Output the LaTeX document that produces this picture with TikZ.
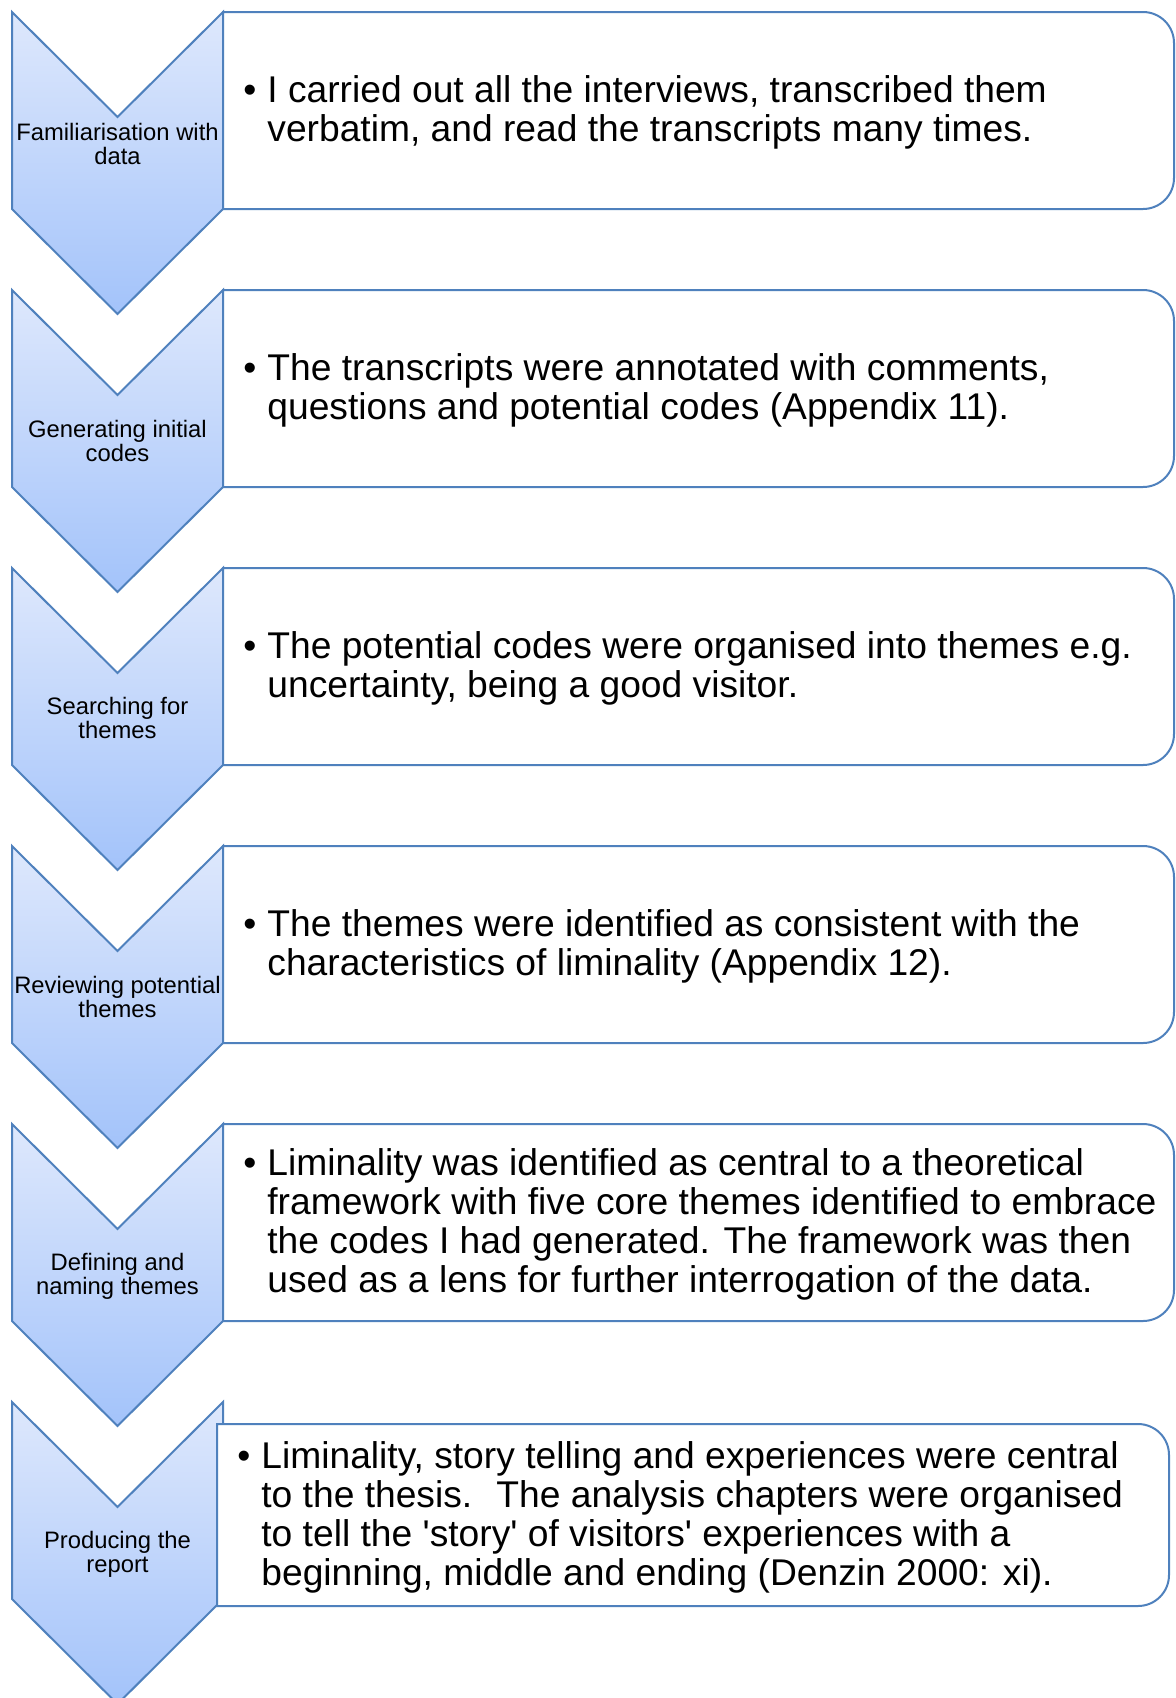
\documentclass[tikz,border=0pt]{standalone}
\usepackage{fontspec}
\setmainfont{Liberation Sans}
\definecolor{edgeblue}{RGB}{79,129,189}
\definecolor{chevtop}{RGB}{222,232,252}
\definecolor{chevbot}{RGB}{163,195,250}
\newcommand{\notelines}[1]{\makebox[12pt][l]{\textbullet}\begin{tabular}[t]{@{}l@{}}#1\end{tabular}}
\newcommand{\steplines}[1]{\begin{tabular}[t]{@{}c@{}}#1\end{tabular}}

\begin{document}
\begin{tikzpicture}[x=0.5pt,y=-0.5pt,
  chevron/.style={draw=edgeblue,line width=1pt,top color=chevtop,bottom color=chevbot},
  notebox/.style={draw=edgeblue,line width=1pt,fill=white},
  steplabel/.style={anchor=base,inner sep=0pt,font=\fontsize{11.9}{12}\selectfont},
  notetext/.style={anchor=base west,inner sep=0pt,font=\fontsize{18.6}{19.5}\selectfont}]

  \useasboundingbox (0,0) rectangle (1176,1698);
  \fill[white] (0,0) rectangle (1176,1698);

  \foreach \t in {12,290,568,846,1124,1402}
    \path[chevron] (12,\t) -- (117.5,\t+105) -- (223,\t) -- (223,\t+197) -- (117.5,\t+302) -- (12,\t+197) -- cycle;

  \foreach \t in {12,290,568,846,1124}
    \draw[notebox] (223,\t) -- (1143,\t) arc (-90:0:31) -- (1174,\t+166) arc (0:90:31) -- (223,\t+197) -- cycle;
  \draw[notebox] (217,1424) -- (1138,1424) arc (-90:0:31) -- (1169,1575) arc (0:90:31) -- (217,1606) -- cycle;

  \node[steplabel] (step1) at (117.5,140) {\steplines{Familiarisation with\\data}};
  \node[steplabel] (step2) at (117.5,437) {\steplines{Generating initial\\codes}};
  \node[steplabel] (step3) at (117.5,714) {\steplines{Searching for\\themes}};
  \node[steplabel] (step4) at (117.5,993) {\steplines{Reviewing potential\\themes}};
  \node[steplabel] (step5) at (117.5,1270) {\steplines{Defining and\\naming themes}};
  \node[steplabel] (step6) at (117.5,1548) {\steplines{Producing the\\report}};

  \node[notetext] (note1) at (243,102) {\notelines{I carried out all the interviews, transcribed them\\verbatim, and read the transcripts many times.}};
  \node[notetext] (note2) at (243,380) {\notelines{The transcripts were annotated with comments,\\questions and potential codes (Appendix 11).}};
  \node[notetext] (note3) at (243,658) {\notelines{The potential codes were organised into themes e.g.\\uncertainty, being a good visitor.}};
  \node[notetext] (note4) at (243,936) {\notelines{The themes were identified as consistent with the\\characteristics of liminality (Appendix 12).}};
  \node[notetext] (note5) at (243,1175) {\notelines{Liminality was identified as central to a theoretical\\framework with five core themes identified to embrace\\the codes I had generated. The framework was then\\used as a lens for further interrogation of the data.}};
  \node[notetext] (note6) at (237,1468) {\notelines{Liminality, story telling and experiences were central\\to the thesis.~ The analysis chapters were organised\\to tell the \textquotesingle story\textquotesingle{} of visitors\textquotesingle{} experiences with a\\beginning, middle and ending (Denzin 2000: xi).}};
\end{tikzpicture}
\end{document}
